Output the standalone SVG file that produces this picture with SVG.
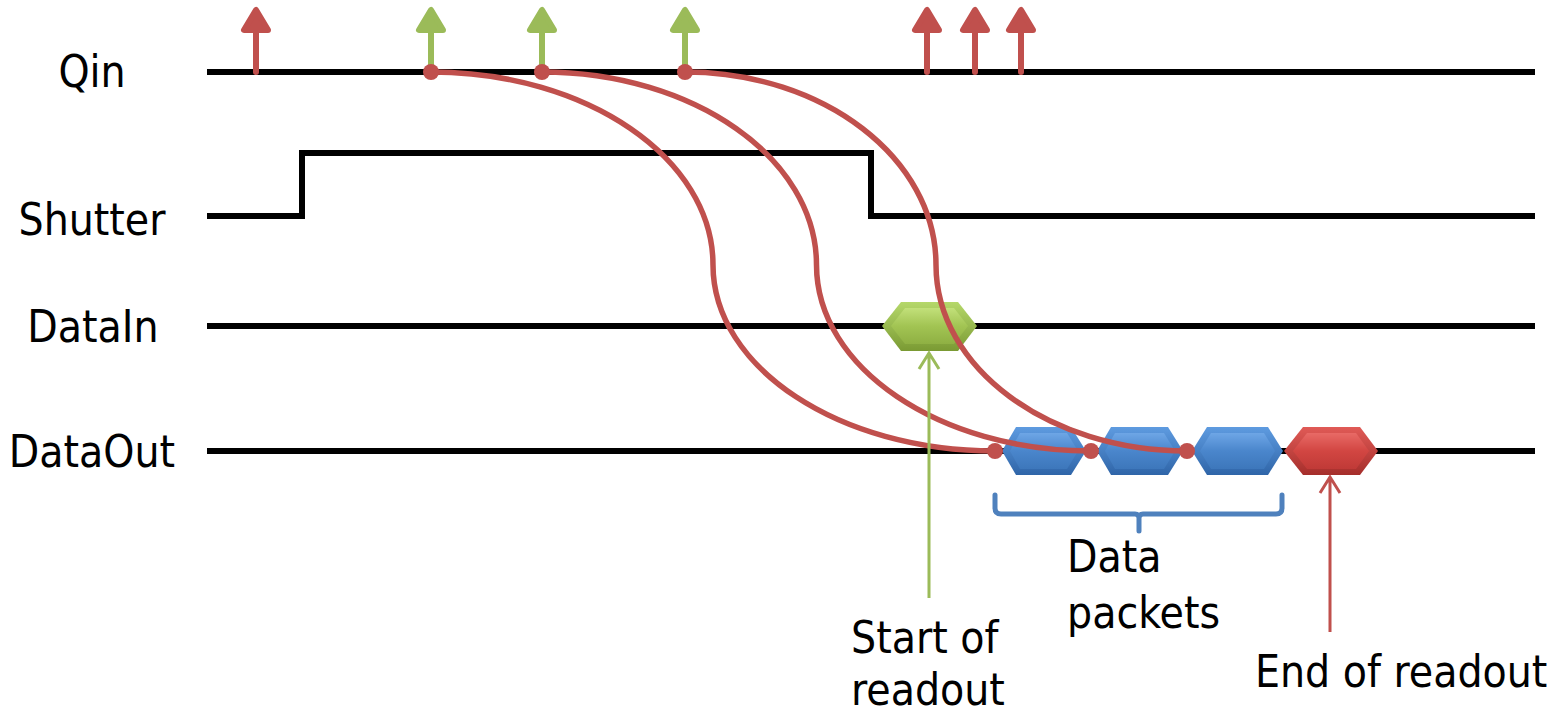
<svg xmlns="http://www.w3.org/2000/svg" width="1557" height="713" viewBox="0 0 1557 713">
<style>
.lbl{font-family:"DejaVu Sans Condensed","DejaVu Sans",sans-serif;font-stretch:condensed;font-size:44px;fill:#000}
.sig{fill:none;stroke:#000;stroke-width:6}
.curve{fill:none;stroke:#c0504d;stroke-width:5.5;stroke-linecap:round}
.dot{fill:#c0504d}
.ar{stroke-width:6;stroke-linejoin:round;stroke-linecap:round}
.red{stroke:#c0504d;fill:#c0504d}
.grn{stroke:#9bbb59;fill:#9bbb59}
.thin{fill:none;stroke-width:3}
</style>
<defs>
<linearGradient id="gBlue" x1="0" y1="0" x2="0" y2="1">
<stop offset="0" stop-color="#6ea6e6"/><stop offset="0.5" stop-color="#4a86cc"/><stop offset="1" stop-color="#3d77bb"/>
</linearGradient>
<linearGradient id="gBlueO" x1="0" y1="0" x2="0" y2="1">
<stop offset="0" stop-color="#5e9be0"/><stop offset="1" stop-color="#2f65a8"/>
</linearGradient>
<linearGradient id="gRed" x1="0" y1="0" x2="0" y2="1">
<stop offset="0" stop-color="#e86a66"/><stop offset="0.5" stop-color="#d24642"/><stop offset="1" stop-color="#c03a37"/>
</linearGradient>
<linearGradient id="gRedO" x1="0" y1="0" x2="0" y2="1">
<stop offset="0" stop-color="#e05a56"/><stop offset="1" stop-color="#a52e2b"/>
</linearGradient>
<linearGradient id="gGrn" x1="0" y1="0" x2="0" y2="1">
<stop offset="0" stop-color="#c2e07a"/><stop offset="0.5" stop-color="#a2c453"/><stop offset="1" stop-color="#8fb043"/>
</linearGradient>
<linearGradient id="gGrnO" x1="0" y1="0" x2="0" y2="1">
<stop offset="0" stop-color="#b5d86a"/><stop offset="1" stop-color="#7a9a33"/>
</linearGradient>
</defs>

<g id="labels">
<text class="lbl" x="92" y="87" text-anchor="middle">Qin</text>
<text class="lbl" x="92" y="235" text-anchor="middle">Shutter</text>
<text class="lbl" x="93" y="342" text-anchor="middle">DataIn</text>
<text class="lbl" x="92" y="467" text-anchor="middle">DataOut</text>
</g>

<g id="signals">
<path id="qin" class="sig" d="M207,72 H1535"/>
<path id="shutter" class="sig" d="M207,216 H302 V153 H871 V216 H1535"/>
<path id="datain" class="sig" d="M207,326 H1535"/>
<path id="dataout" class="sig" d="M207,451 H1535"/>
</g>

<g id="qin-arrows">
<g class="ar red"><path d="M256,72 V24"/><path d="M256,10 L244,30 H268 Z"/></g>
<g class="ar grn"><path d="M431,72 V24"/><path d="M431,10 L419,30 H443 Z"/></g>
<g class="ar grn"><path d="M542,72 V24"/><path d="M542,10 L530,30 H554 Z"/></g>
<g class="ar grn"><path d="M685,72 V24"/><path d="M685,10 L673,30 H697 Z"/></g>
<g class="ar red"><path d="M927,72 V24"/><path d="M927,10 L915,30 H939 Z"/></g>
<g class="ar red"><path d="M975,72 V24"/><path d="M975,10 L963,30 H987 Z"/></g>
<g class="ar red"><path d="M1021,72 V24"/><path d="M1021,10 L1009,30 H1033 Z"/></g>
</g>

<g id="datain-packet">
<polygon points="882,326 901,302 958,302 977,326 958,351 901,351" fill="url(#gGrnO)"/>
<polygon points="891,326 905,308 954,308 968,326 954,344 905,344" fill="url(#gGrn)"/>
</g>

<g id="packet1">
<polygon points="1002,451 1016,427 1071,427 1086,451 1071,475 1016,475" fill="url(#gBlueO)"/>
<polygon points="1010,451 1020,433 1067,433 1078,451 1067,469 1020,469" fill="url(#gBlue)"/>
</g>
<g id="packet2">
<polygon points="1097,451 1111,427 1168,427 1183,451 1168,475 1111,475" fill="url(#gBlueO)"/>
<polygon points="1105,451 1115,433 1164,433 1175,451 1164,469 1115,469" fill="url(#gBlue)"/>
</g>
<g id="packet3">
<polygon points="1192,451 1207,427 1268,427 1283,451 1268,475 1207,475" fill="url(#gBlueO)"/>
<polygon points="1200,451 1211,433 1264,433 1275,451 1264,469 1211,469" fill="url(#gBlue)"/>
</g>
<g id="end-packet">
<polygon points="1284,451 1303,427 1360,427 1378,451 1360,475 1303,475" fill="url(#gRedO)"/>
<polygon points="1293,451 1307,433 1356,433 1369,451 1356,469 1307,469" fill="url(#gRed)"/>
</g>

<g id="connectors">
<path class="curve" d="M431,72 C586.7,72 713,158.4 713,265 C713,367.7 839.3,451 995,451"/>
<path class="curve" d="M542,72 C693.6,72 816.5,158.4 816.5,265 C816.5,367.7 939.4,451 1091,451"/>
<path class="curve" d="M685,72 C823.6,72 936,158.4 936,265 C936,367.7 1048.4,451 1187,451"/>
<circle class="dot" cx="431" cy="72" r="8"/>
<circle class="dot" cx="542" cy="72" r="8"/>
<circle class="dot" cx="685" cy="72" r="8"/>
<circle class="dot" cx="995" cy="451" r="8"/>
<circle class="dot" cx="1091" cy="451" r="8"/>
<circle class="dot" cx="1187" cy="451" r="8"/>
<path class="thin" stroke="#9bbb59" d="M929,598 V353 M919,369 L929,353 L939,369"/>
<path class="thin" stroke="#c0504d" d="M1330,632 V477 M1320,493 L1330,477 L1340,493"/>
</g>

<g id="bracket">
<path fill="none" stroke="#4f81bd" stroke-width="5" stroke-linecap="round" d="M995,495 V508 Q995,514 1001,514 H1135 Q1139,514 1139,518 V531 M1139,518 Q1139,514 1143,514 H1276 Q1282,514 1282,508 V495"/>
</g>

<g id="annotations">
<text class="lbl" x="851" y="653">Start of</text>
<text class="lbl" x="851" y="705">readout</text>
<text class="lbl" x="1067" y="572">Data</text>
<text class="lbl" x="1067" y="628">packets</text>
<text class="lbl" x="1255" y="687">End of readout</text>
</g>
</svg>
